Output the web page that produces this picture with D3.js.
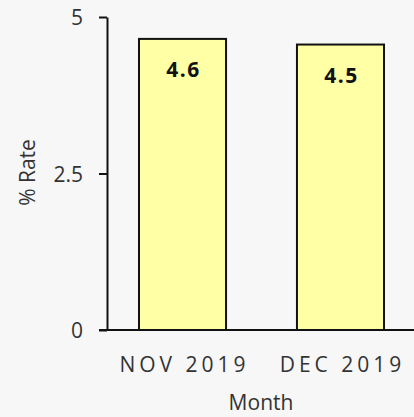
<!DOCTYPE html>
<html><head><meta charset="utf-8">
<script src="https://cdn.jsdelivr.net/npm/d3@7"></script>
<style>html,body{margin:0;padding:0;background:#f7f7f7;}svg{display:block;}</style>
</head><body><svg id="c" width="414" height="417"></svg>
<script>
const categories = ["NOV 2019", "DEC 2019"];
const values = [4.65, 4.56];
const labels = ["4.6", "4.5"];
const yTicks = [0, 2.5, 5];

const svg = d3.select("#c");
const font = "'Open Sans', 'Liberation Sans', sans-serif";
const x = d3.scaleBand().domain(categories).range([107, 416]).paddingInner(0.449).paddingOuter(0.2025);
const y = d3.scaleLinear().domain([0, 5]).range([330, 17]);

svg.append("g").selectAll("rect").data(values).join("rect")
  .attr("x", (d, i) => x(categories[i]))
  .attr("y", d => y(d))
  .attr("width", x.bandwidth())
  .attr("height", d => y(0) - y(d))
  .attr("fill", "#ffffa6").attr("stroke", "#111").attr("stroke-width", 2);

svg.append("g").selectAll("text").data(values).join("text")
  .attr("x", (d, i) => x(categories[i]) + x.bandwidth() / 2 + 1)
  .attr("y", d => y(d) + 38)
  .attr("text-anchor", "middle")
  .attr("font-family", font).attr("font-weight", "bold").attr("font-size", 21)
  .attr("letter-spacing", "1.5px").attr("fill", "#111")
  .text((d, i) => labels[i]);

const yAxis = svg.append("g").attr("transform", "translate(107,0)")
  .call(d3.axisLeft(y).tickValues(yTicks).tickFormat(d => d).tickSize(8).tickSizeOuter(0));
yAxis.select(".domain").attr("stroke", "#111").attr("stroke-width", 2);
yAxis.selectAll(".tick line").attr("stroke", "#111").attr("stroke-width", 2);
yAxis.selectAll(".tick text").attr("font-family", font).attr("font-size", 21).attr("fill", "#333")
  .attr("x", -24).attr("dy", "0.36em");

const xAxis = svg.append("g").attr("transform", "translate(0,330)")
  .call(d3.axisBottom(x).tickSize(0));
xAxis.select(".domain").attr("d", "M99,0H414").attr("stroke", "#111").attr("stroke-width", 2);
xAxis.selectAll(".tick text").attr("font-family", font).attr("font-size", 21)
  .attr("letter-spacing", "4px").attr("fill", "#333").attr("y", 42).attr("dy", 0).attr("x", 2);

svg.append("text").attr("x", 261).attr("y", 410).attr("text-anchor", "middle")
  .attr("font-family", font).attr("font-size", 21).attr("fill", "#333").text("Month");
svg.append("text").attr("transform", "translate(35,172.5) rotate(-90)").attr("text-anchor", "middle")
  .attr("font-family", font).attr("font-size", 21).attr("fill", "#333").text("% Rate");
</script></body></html>
